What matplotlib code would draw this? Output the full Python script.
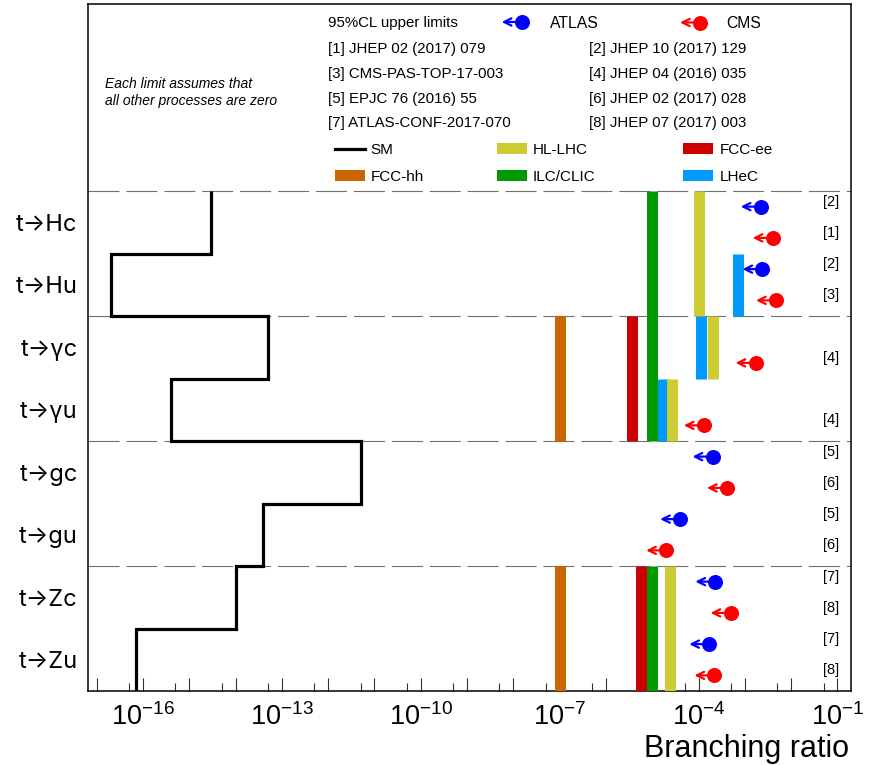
import numpy as np
import matplotlib
matplotlib.use('Agg')
import matplotlib.pyplot as plt
from matplotlib.patches import Rectangle
from matplotlib.lines import Line2D
from matplotlib import transforms
from matplotlib.ticker import FixedLocator, FuncFormatter

plt.rcParams['font.family'] = ['Liberation Sans', 'DejaVu Sans']
plt.rcParams['mathtext.fontset'] = 'custom'
plt.rcParams['mathtext.rm'] = 'Liberation Sans'
plt.rcParams['mathtext.it'] = 'Liberation Sans:italic'
plt.rcParams['mathtext.bf'] = 'Liberation Sans:bold'
plt.rcParams['lines.scale_dashes'] = False

nan = np.nan
# ---------------- data (rows from bottom to top) ----------------
processes = ['t→Zu', 't→Zc', 't→gu', 't→gc', 't→γu', 't→γc', 't→Hu', 't→Hc']
sm_br = [7e-17, 1e-14, 4e-14, 5e-12, 4e-16, 5e-14, 2e-17, 3e-15]
atlas_br = [1.7e-4, 2.3e-4, 4.0e-5, 2.0e-4, nan, nan, 2.4e-3, 2.2e-3]
atlas_ref = ['[7]', '[7]', '[5]', '[5]', '', '', '[2]', '[2]']
cms_br = [2.2e-4, 4.9e-4, 2.0e-5, 4.1e-4, 1.3e-4, 1.7e-3, 4.7e-3, 4.0e-3]
cms_ref = ['[8]', '[8]', '[6]', '[6]', '[4]', '[4]', '[3]', '[1]']

fcc_hh = [1e-7, 1e-7, nan, nan, 1e-7, 1e-7, nan, nan]
fcc_ee = [5.6e-6, 5.6e-6, nan, nan, 3.6e-6, 3.6e-6, nan, nan]
ilc_clic = [1e-5, 1e-5, nan, nan, 1e-5, 1e-5, 1e-5, 1e-5]
lhec = [nan, nan, nan, nan, 1.7e-5, 1.15e-4, 7e-4, nan]
hl_lhc = [2.4e-5, 2.4e-5, nan, nan, 2.7e-5, 2.0e-4, 1e-4, 1e-4]

references = ['[1] JHEP 02 (2017) 079', '[2] JHEP 10 (2017) 129',
              '[3] CMS-PAS-TOP-17-003', '[4] JHEP 04 (2016) 035',
              '[5] EPJC 76 (2016) 55', '[6] JHEP 02 (2017) 028',
              '[7] ATLAS-CONF-2017-070', '[8] JHEP 07 (2017) 003']
labelled_exponents = [-16, -13, -10, -7, -4, -1]

# ---------------- styles ----------------
C_ATLAS = '#0000FF'
C_CMS = '#FF0000'
collider_styles = [('FCC-hh', fcc_hh, '#CC6600'),
                   ('FCC-ee', fcc_ee, '#CC0000'),
                   ('ILC/CLIC', ilc_clic, '#009900'),
                   ('LHeC', lhec, '#0099FF'),
                   ('HL-LHC', hl_lhc, '#CCCC33')]
col_color = {n: c for n, _, c in collider_styles}

W, H = 872, 765
fig = plt.figure(figsize=(W / 100, H / 100), dpi=100)
fig.patch.set_facecolor('white')
ax = fig.add_axes([88 / W, (H - 691) / H, (851 - 88) / W, (691 - 3.5) / H])

nrows = len(processes)
rows = np.arange(nrows)
ax.set_xscale('log')
ax.set_xlim(6.5e-18, 0.196)
ax.set_ylim(0, 11)

# separators
for yy in range(2, nrows + 1, 2):
    ax.axhline(yy, color='#707070', lw=0.8, dashes=(22.3, 5.0), zorder=1)

# SM step line
ax.stairs(sm_br, np.arange(nrows + 1), orientation='horizontal', baseline=None,
          color='black', lw=2.3, zorder=4)

# future collider bars (merge consecutive equal values)
for name, vals, c in collider_styles:
    i = 0
    while i < nrows:
        v = vals[i]
        if np.isnan(v):
            i += 1
            continue
        j = i
        while j + 1 < nrows and vals[j + 1] == v:
            j += 1
        lc = ax.vlines(v, i, j + 1, colors=c, lw=7.9, zorder=3)
        lc.set_capstyle('butt')
        i = j + 1

# limits with arrows
tip_tr = transforms.offset_copy(ax.transData, fig=fig, x=-20, y=0, units='dots')
blend = transforms.blended_transform_factory(ax.transAxes, ax.transData)
for vals, refs, off, c in [(atlas_br, atlas_ref, 0.75, C_ATLAS), (cms_br, cms_ref, 0.25, C_CMS)]:
    ys = rows + off
    ax.plot(vals, ys, 'o', color=c, ms=10.8, mec='none', zorder=6, clip_on=False)
    for v, y, r in zip(vals, ys, refs):
        if np.isnan(v):
            continue
        ax.annotate('', xy=(v, y), xycoords=tip_tr, xytext=(v, y), textcoords='data',
                    arrowprops=dict(arrowstyle='->', color=c, lw=1.6, shrinkA=0, shrinkB=0,
                                    mutation_scale=13), zorder=5)
        ax.text(0.9738, y + 0.08, r, transform=blend, ha='center', va='center', fontsize=10.5)

# axes styling
for s in ax.spines.values():
    s.set_linewidth(1.1)
    s.set_color('black')
ax.set_yticks(rows + 0.5, processes)
ax.tick_params(axis='y', length=0, pad=7.5, labelsize=17)
for t in ax.get_yticklabels():
    t.set_family(['Inter', 'Liberation Sans', 'DejaVu Sans'])
ax.xaxis.set_major_locator(FixedLocator(10.0 ** np.arange(-17, 0)))
ax.xaxis.set_minor_locator(FixedLocator(5 * 10.0 ** np.arange(-18, 0)))
ax.xaxis.set_major_formatter(FuncFormatter(
    lambda x, p: r'$10^{%d}$' % round(np.log10(x)) if round(np.log10(x)) in labelled_exponents else ''))
ax.xaxis.set_minor_formatter(FuncFormatter(lambda x, p: ''))
ax.tick_params(axis='x', which='major', direction='in', length=9.4, width=0.8, color='#333333',
               labelsize=19.5, pad=9)
ax.tick_params(axis='x', which='minor', direction='in', length=5.5, width=0.8, color='#333333')
ax.tick_params(top=False, right=False, which='both')

fig.text(849 / W, (H - 757) / H, 'Branching ratio', ha='right', va='baseline', fontsize=22)

# ---------------- header legend (figure pixel coordinates) ----------------
def fx(x):
    return x / W

def fy(y):
    return 1 - y / H

fig.text(fx(328), fy(26.8), '95%CL upper limits', fontsize=10.8, va='baseline')
for cx, cy, tipx, c, lab, lx in [(521.7, 22, 501.7, C_ATLAS, 'ATLAS', 550),
                                 (700, 22.5, 680, C_CMS, 'CMS', 726.7)]:
    fig.add_artist(Line2D([fx(cx)], [fy(cy)], marker='o', color=c, ms=10.8, mec='none',
                          transform=fig.transFigure))
    ax.annotate('', xy=(tipx, H - cy), xycoords='figure pixels', xytext=(cx, H - cy),
                textcoords='figure pixels',
                arrowprops=dict(arrowstyle='->', color=c, lw=1.6, shrinkA=0, shrinkB=0,
                                mutation_scale=13), annotation_clip=False)
    fig.text(fx(lx), fy(27.5), lab, fontsize=11.3, va='baseline')

ref_base = [53.5, 78.3, 103.0, 127.5]
for k, ref in enumerate(references):
    col = k % 2
    rw = k // 2
    fig.text(fx([328, 588.5][col]), fy(ref_base[rw]), ref, fontsize=10.8, va='baseline')

fig.text(fx(105), fy(88.3), 'Each limit assumes that', fontsize=10, style='italic', va='baseline')
fig.text(fx(105), fy(104.5), 'all other processes are zero', fontsize=10, style='italic', va='baseline')

# legend entries: SM line and coloured boxes
fig.add_artist(Line2D([fx(335), fx(365)], [fy(149), fy(149)], color='black', lw=2.3,
                      transform=fig.transFigure))
fig.text(fx(370.7), fy(154.3), 'SM', fontsize=11, va='baseline')
legend_boxes = [('HL-LHC', 496.7, 148.3, 533, 154.3),
                ('FCC-ee', 683, 148.3, 719.5, 154.3),
                ('FCC-hh', 335, 175.3, 371, 181.3),
                ('ILC/CLIC', 496.7, 175.3, 533, 181.3),
                ('LHeC', 683, 175.3, 719.5, 181.3)]
for name, bx, bcy, tx, tyb in legend_boxes:
    fig.add_artist(Rectangle((fx(bx), fy(bcy + 5.2)), 30 / W, 10.4 / H, facecolor=col_color[name],
                             edgecolor='none', transform=fig.transFigure))
    fig.text(fx(tx), fy(tyb), name, fontsize=11, va='baseline')

fig.savefig('out.png', dpi=100, facecolor='white')
